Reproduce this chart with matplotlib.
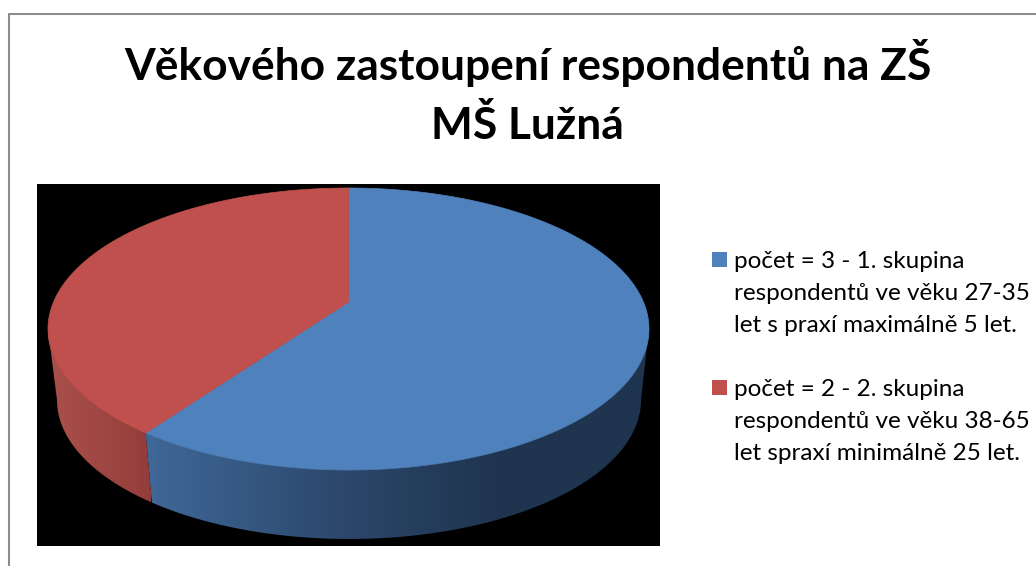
import numpy as np
import matplotlib
matplotlib.use('Agg')
import matplotlib.pyplot as plt
from matplotlib.colors import LinearSegmentedColormap
from matplotlib.patches import Polygon, Rectangle

title_lines = ['Věkového zastoupení respondentů na ZŠ', 'MŠ Lužná']
values = [3, 2]
legend_labels = ['počet = 3 - 1. skupina\nrespondentů ve věku 27-35\nlet s praxí maximálně 5 let.',
                 'počet = 2 - 2. skupina\nrespondentů ve věku 38-65\nlet spraxí minimálně 25 let.']
colors = ['#4f81bd', '#c0504d']

# pie geometry in picture pixels
CX, CY = 348.5, 329
RX, RY = 300.5, 141
APEX_Y = 302
CX2, CY2 = 349, 400
RX2, RY2 = 292, 139

plt.rcParams['font.family'] = ['Lato', 'DejaVu Sans']
fig = plt.figure(figsize=(10.36, 5.66), dpi=100)
ax = fig.add_axes([0, 0, 1, 1])


def rim(t):
    # t runs clockwise from the top, seen from the off-centre apex
    a = (APEX_Y - CY) / RY
    s = a * np.cos(t) + np.sqrt((a * np.cos(t)) ** 2 - a * a + 1)
    return s * np.sin(t), a - s * np.cos(t)


def upper(nx, ny):
    return np.column_stack([CX + RX * nx, CY + RY * ny])


def lower(nx, ny):
    return np.column_stack([CX2 + RX2 * nx, CY2 + RY2 * ny])


def gradient_side(poly, stops, x0, x1):
    cmap = LinearSegmentedColormap.from_list('side', stops)
    g = np.linspace(0, 1, 256).reshape(1, -1)
    im = ax.imshow(g, cmap=cmap, extent=[x0, x1, 546, 184], aspect='auto', zorder=2)
    im.set_clip_path(Polygon(poly, transform=ax.transData))


# frame and black chart background
ax.plot([8.5, 8.5, 1036], [566, 13.5, 13.5], color='#8c8c8c', lw=1.5, zorder=1)
ax.add_patch(Rectangle((37, 184), 623, 362, facecolor='black', edgecolor='none', zorder=1))

split = 2 * np.pi * values[0] / sum(values)
seam_x, seam_y = rim(split)
seam_ang = np.arctan2(seam_y, seam_x)

# outer wall, blue part goes from the seam to the right, red from the left to the seam
ang = np.linspace(seam_ang, 0, 200)
blue_wall = np.vstack([upper(np.cos(ang), np.sin(ang)), lower(np.cos(ang), np.sin(ang))[::-1]])
gradient_side(blue_wall, [(0, '#3f6898'), (0.41, '#2b4669'), (0.71, '#1f344e'), (1, '#1f344e')], 145, 650)
ang = np.linspace(np.pi, seam_ang, 120)
red_wall = np.vstack([upper(np.cos(ang), np.sin(ang)), lower(np.cos(ang), np.sin(ang))[::-1]])
gradient_side(red_wall, ['#ab514c', '#933d3a'], 48, 151)

# top faces
starts = [0, split]
ends = [split, 2 * np.pi]
for start, end, color in zip(starts, ends, colors):
    t = np.linspace(start, end, 400)
    nx, ny = rim(t)
    pts = np.vstack([[CX, APEX_Y], upper(nx, ny)])
    ax.add_patch(Polygon(pts, closed=True, facecolor=color, edgecolor=color, lw=0.5, zorder=3))

# title
ax.text(527.5, 80, title_lines[0], fontsize=31.9, fontweight='bold', ha='center', va='baseline', color='black')
ax.text(527.5, 139, title_lines[1], fontsize=31.9, fontweight='bold', ha='center', va='baseline', color='black')

# legend
for label, color, y in zip(legend_labels, colors, [252, 380]):
    ax.add_patch(Rectangle((712, y), 15, 15, facecolor=color, edgecolor='none'))
    for i, line in enumerate(label.split('\n')):
        ax.text(734, y + 16 + i * 32, line, fontsize=17.5, ha='left', va='baseline', color='black')

ax.set_xlim(0, 1036)
ax.set_ylim(566, 0)
ax.axis('off')
fig.savefig('out.png', dpi=100, facecolor='white')
